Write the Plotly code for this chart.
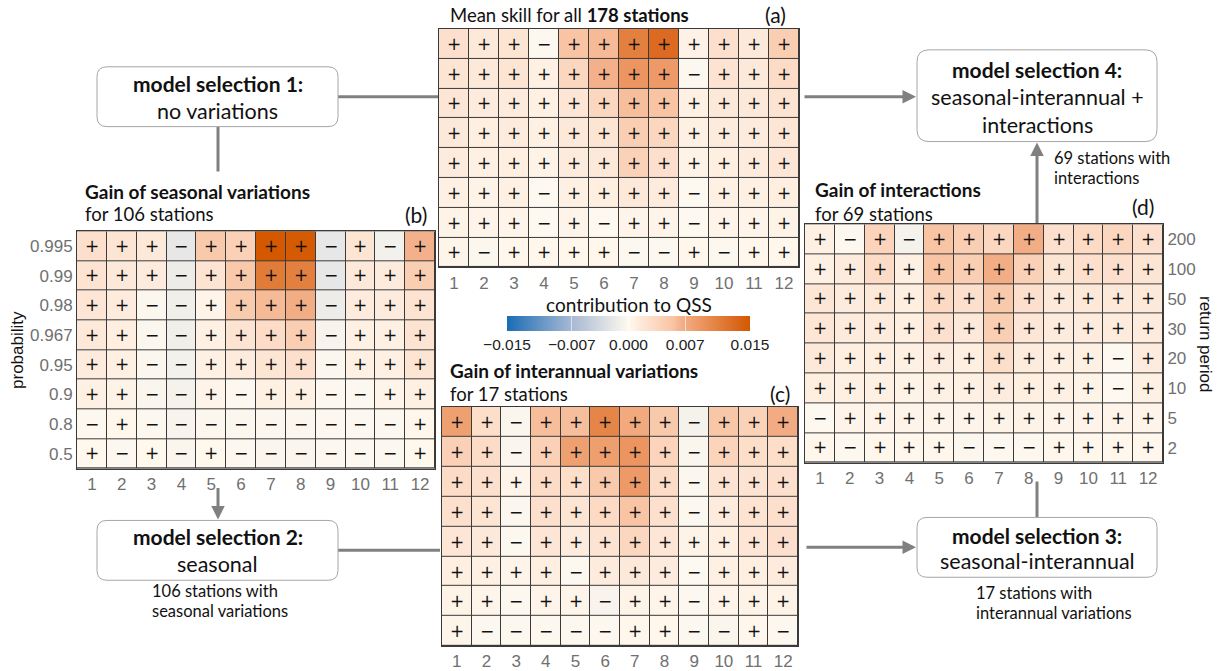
import plotly.graph_objects as go

W, H = 1220, 671

months = list(range(1, 13))
prob_labels = ["0.995", "0.99", "0.98", "0.967", "0.95", "0.9", "0.8", "0.5"]
rp_labels = ["200", "100", "50", "30", "20", "10", "5", "2"]

# mean skill contribution, all stations (rows: highest level first)
skill_all = [
    [0.0025, 0.0015, 0.0020, -0.0002, 0.0055, 0.0060, 0.0110, 0.0130, 0.0007, 0.0025, 0.0015, 0.0045],
    [0.0020, 0.0015, 0.0020, 0.0008, 0.0035, 0.0065, 0.0090, 0.0085, -0.0002, 0.0022, 0.0015, 0.0030],
    [0.0018, 0.0012, 0.0012, 0.0008, 0.0018, 0.0035, 0.0058, 0.0055, 0.0008, 0.0015, 0.0015, 0.0022],
    [0.0015, 0.0010, 0.0012, 0.0008, 0.0015, 0.0020, 0.0045, 0.0035, 0.0008, 0.0012, 0.0012, 0.0018],
    [0.0012, 0.0008, 0.0010, 0.0006, 0.0012, 0.0015, 0.0040, 0.0025, 0.0006, 0.0010, 0.0012, 0.0018],
    [0.0008, 0.0006, 0.0008, -0.0001, 0.0008, 0.0010, 0.0015, 0.0012, -0.0001, 0.0008, 0.0008, 0.0010],
    [0.0006, 0.0005, 0.0005, -0.0001, 0.0005, -0.0001, 0.0005, 0.0005, -0.0001, 0.0005, 0.0005, 0.0006],
    [0.0004, -0.0003, 0.0003, 0.0003, 0.0003, 0.0003, -0.0002, -0.0002, 0.0003, -0.0002, 0.0003, 0.0003],
]

# gain of seasonal variations, 106 stations
gain_seasonal = [
    [0.0025, 0.0020, 0.0015, -0.0020, 0.0050, 0.0042, 0.0150, 0.0148, -0.0020, 0.0020, -0.0010, 0.0065],
    [0.0022, 0.0015, 0.0012, -0.0015, 0.0022, 0.0050, 0.0115, 0.0110, -0.0020, 0.0015, 0.0012, 0.0045],
    [0.0018, 0.0012, -0.0003, -0.0012, 0.0005, 0.0048, 0.0060, 0.0068, -0.0015, 0.0012, 0.0012, 0.0022],
    [0.0015, 0.0010, -0.0003, -0.0012, 0.0008, 0.0022, 0.0030, 0.0045, -0.0006, 0.0008, 0.0008, 0.0022],
    [0.0012, 0.0008, -0.0003, -0.0010, 0.0008, 0.0012, 0.0020, 0.0025, -0.0003, 0.0008, 0.0008, 0.0020],
    [0.0008, 0.0006, -0.0004, -0.0008, 0.0005, -0.0002, 0.0008, 0.0008, -0.0002, -0.0002, 0.0005, 0.0008],
    [-0.0002, 0.0003, -0.0002, -0.0006, -0.0003, -0.0003, -0.0003, -0.0003, -0.0002, -0.0002, -0.0002, 0.0003],
    [0.0002, -0.0002, 0.0002, -0.0004, 0.0002, -0.0002, -0.0004, -0.0004, -0.0002, -0.0002, -0.0002, 0.0002],
]

# gain of interannual variations, 17 stations
gain_interannual = [
    [0.0080, 0.0028, -0.0004, 0.0058, 0.0058, 0.0105, 0.0072, 0.0050, -0.0008, 0.0052, 0.0040, 0.0070],
    [0.0042, 0.0030, -0.0004, 0.0042, 0.0080, 0.0082, 0.0090, 0.0038, -0.0004, 0.0038, 0.0028, 0.0028],
    [0.0030, 0.0025, 0.0005, 0.0030, 0.0028, 0.0050, 0.0085, 0.0030, -0.0003, 0.0022, 0.0022, 0.0025],
    [0.0025, 0.0020, -0.0003, 0.0025, 0.0020, 0.0032, 0.0055, 0.0025, -0.0002, 0.0012, 0.0022, 0.0025],
    [0.0018, 0.0015, -0.0002, 0.0018, 0.0012, 0.0022, 0.0035, 0.0018, 0.0006, 0.0010, 0.0018, 0.0025],
    [0.0010, 0.0008, 0.0005, 0.0010, -0.0002, 0.0012, 0.0015, 0.0012, -0.0001, 0.0008, 0.0010, 0.0012],
    [0.0006, 0.0005, -0.0002, 0.0005, 0.0005, -0.0006, 0.0006, 0.0005, -0.0002, 0.0005, 0.0006, 0.0006],
    [0.0004, -0.0002, -0.0002, -0.0002, -0.0002, -0.0002, 0.0003, 0.0003, -0.0002, -0.0004, 0.0003, -0.0002],
]

# gain of interactions, 69 stations (rows: return period 200 ... 2)
gain_interactions = [
    [0.0008, -0.0002, 0.0038, -0.0008, 0.0055, 0.0045, 0.0035, 0.0068, 0.0025, 0.0032, 0.0035, 0.0025],
    [0.0008, 0.0012, 0.0030, 0.0008, 0.0055, 0.0045, 0.0068, 0.0042, 0.0020, 0.0025, 0.0025, 0.0020],
    [0.0018, 0.0012, 0.0015, 0.0010, 0.0033, 0.0025, 0.0050, 0.0025, 0.0015, 0.0015, 0.0015, 0.0015],
    [0.0018, 0.0012, 0.0012, 0.0010, 0.0025, 0.0015, 0.0045, 0.0018, 0.0012, 0.0012, 0.0012, 0.0012],
    [0.0015, 0.0010, 0.0010, 0.0008, 0.0012, 0.0010, 0.0028, 0.0012, 0.0010, 0.0008, -0.0001, 0.0012],
    [0.0010, 0.0008, 0.0008, 0.0006, 0.0008, 0.0008, 0.0012, 0.0010, 0.0008, 0.0006, -0.0001, 0.0008],
    [-0.0001, 0.0005, 0.0005, 0.0005, 0.0005, 0.0005, 0.0006, 0.0006, 0.0005, 0.0005, 0.0005, 0.0005],
    [0.0003, -0.0002, 0.0003, 0.0003, 0.0003, -0.0003, -0.0002, -0.0002, 0.0003, 0.0003, 0.0003, 0.0003],
]

cbar_ticks = [-0.015, -0.007, 0.0, 0.007, 0.015]
cbar_ticktext = ["\u22120.015", "\u22120.007", "0.000", "0.007", "0.015"]

colorscale = [
    [0.0, "#1a6cb4"], [0.25, "#a0b4d2"], [0.44, "#e9e9e7"], [0.5, "#fffaf0"],
    [0.55, "#fde9da"], [0.6, "#fcdcc6"], [0.683, "#f8c4a4"], [0.717, "#f4b08a"],
    [0.8, "#ec9560"], [0.867, "#e3803f"], [0.933, "#dc6a22"], [1.0, "#d35800"],
]

TXT = "Lato"
TICK = "Liberation Sans"


def px(x):
    return x / W


def py(y):
    return 1 - y / H


def signs(z):
    return [["+" if v > 0 else "\u2212" for v in row] for row in z]


# panel rectangles in pixels: (left, top, right, bottom)
panels = {
    "a": (439, 29, 799, 268),
    "b": (77, 232, 435, 470),
    "c": (442, 408, 798, 648),
    "d": (805, 225, 1163, 464),
}
datasets = {"a": skill_all, "b": gain_seasonal, "c": gain_interannual, "d": gain_interactions}

fig = go.Figure()
layout_axes = {}
for i, key in enumerate(["a", "b", "c", "d"], start=1):
    z = datasets[key]
    sfx = "" if i == 1 else str(i)
    fig.add_trace(go.Heatmap(
        z=z, x=months, y=list(range(8)),
        text=signs(z), texttemplate="%{text}",
        textfont=dict(size=17, color="#111111", family="DejaVu Sans"),
        coloraxis="coloraxis", xgap=1, ygap=1,
        xaxis="x" + sfx, yaxis="y" + sfx, hoverinfo="skip",
    ))
    l, t, r, b = panels[key]
    layout_axes["xaxis" + sfx] = dict(
        domain=[px(l), px(r)], anchor="y" + sfx, range=[0.5, 12.5],
        tickvals=months, showgrid=False, zeroline=False,
        showline=True, mirror=True, linecolor="#3a3a3a", linewidth=1,
        ticks="", tickfont=dict(family=TICK, size=17, color="#707070"),
    )
    yax = dict(
        domain=[py(b), py(t)], anchor="x" + sfx, range=[7.5, -0.5],
        showgrid=False, zeroline=False, showline=True, mirror=True,
        linecolor="#3a3a3a", linewidth=1, ticks="",
        tickfont=dict(family=TICK, size=17, color="#707070"),
        showticklabels=False,
    )
    if key == "b":
        yax.update(showticklabels=True, tickvals=list(range(8)), ticktext=prob_labels)
    if key == "d":
        yax.update(showticklabels=True, tickvals=list(range(8)), ticktext=rp_labels, side="right")
    layout_axes["yaxis" + sfx] = yax

fig.update_layout(**layout_axes)


def rrect(x0, y0, x1, y1, r):
    pts = [
        f"M {px(x0 + r)} {py(y0)}",
        f"L {px(x1 - r)} {py(y0)}",
        f"Q {px(x1)} {py(y0)} {px(x1)} {py(y0 + r)}",
        f"L {px(x1)} {py(y1 - r)}",
        f"Q {px(x1)} {py(y1)} {px(x1 - r)} {py(y1)}",
        f"L {px(x0 + r)} {py(y1)}",
        f"Q {px(x0)} {py(y1)} {px(x0)} {py(y1 - r)}",
        f"L {px(x0)} {py(y0 + r)}",
        f"Q {px(x0)} {py(y0)} {px(x0 + r)} {py(y0)}",
        "Z",
    ]
    return dict(type="path", path=" ".join(pts), xref="paper", yref="paper",
                line=dict(color="#a6a6a6", width=1), fillcolor="white", layer="above")


GREY = "#808080"


def seg(x0, y0, x1, y1):
    return dict(type="line", xref="paper", yref="paper",
                x0=px(x0), y0=py(y0), x1=px(x1), y1=py(y1),
                line=dict(color=GREY, width=3))


shapes = [
    seg(338, 97, 438, 97),
    seg(218, 127, 218, 172),
    seg(338, 552, 440, 552),
    seg(1037, 519, 1037, 483),
    rrect(97, 67, 338, 127, 10),
    rrect(917, 50, 1157, 142, 12),
    rrect(97, 522, 338, 582, 10),
    rrect(917, 519, 1157, 579, 10),
]

annotations = []


def arrow(tx, ty, hx, hy):
    annotations.append(dict(
        x=px(hx), y=py(hy), xref="paper", yref="paper", text="",
        showarrow=True, ax=tx - hx, ay=ty - hy, axref="pixel", ayref="pixel",
        arrowhead=2, arrowsize=0.9, arrowwidth=3, arrowcolor=GREY,
    ))


arrow(803, 97, 916, 97)
arrow(218, 488, 218, 521)
arrow(805, 549, 916, 549)
arrow(1037, 225, 1037, 143)


def label(text, x, y, size=18, anchor="left", color="#111111", family=TXT, angle=0):
    annotations.append(dict(
        x=px(x), y=py(y), xref="paper", yref="paper", text=text,
        showarrow=False, xanchor=anchor, yanchor="middle", textangle=angle,
        font=dict(family=family, size=size, color=color),
    ))


# panel titles
label("Mean skill for all <b>178 stations</b>", 448, 15, size=18.5)
label("(a)", 788, 15, size=21, anchor="right")
label("<b>Gain of seasonal variations</b>", 83, 192, size=19)
label("for 106 stations", 83, 215, size=18.5)
label("(b)", 429, 215, size=21, anchor="right")
label("<b>Gain of interannual variations</b>", 448, 372, size=19)
label("for 17 stations", 448, 395, size=18.5)
label("(c)", 792, 395, size=21, anchor="right")
label("<b>Gain of interactions</b>", 813, 190, size=19)
label("for 69 stations", 813, 215, size=18.5)
label("(d)", 1156, 207, size=21, anchor="right")

# axis titles
label("probability", 18, 351, size=17, anchor="center", family=TICK, angle=-90)
label("return period", 1205, 345, size=17, anchor="center", family=TICK, angle=90)

# colour bar title
label("contribution to QSS", 629, 305, size=19, anchor="center")

# model selection boxes
label("<b>model selection 1:</b>", 217.5, 84, size=21, anchor="center")
label("no variations", 217.5, 111, size=21.5, anchor="center")
label("<b>model selection 4:</b>", 1037, 70, size=21, anchor="center")
label("seasonal-interannual +", 1037, 97, size=21.5, anchor="center")
label("interactions", 1037, 125, size=21.5, anchor="center")
label("<b>model selection 2:</b>", 217.5, 538, size=21, anchor="center")
label("seasonal", 217.5, 566, size=21.5, anchor="center")
label("<b>model selection 3:</b>", 1037, 537, size=21, anchor="center")
label("seasonal-interannual", 1037, 563, size=21.5, anchor="center")

# station counts along the arrows
label("69 stations with", 1052, 158, size=16.5)
label("interactions", 1052, 179, size=16.5)
label("106 stations with", 150, 593, size=16.5)
label("seasonal variations", 150, 613, size=16.5)
label("17 stations with", 974, 595, size=16.5)
label("interannual variations", 974, 615, size=16.5)

fig.update_layout(
    width=W, height=H, margin=dict(l=0, r=0, t=0, b=0),
    paper_bgcolor="white", plot_bgcolor="#3a3a3a",
    showlegend=False, shapes=shapes, annotations=annotations,
    coloraxis=dict(
        cmin=-0.015, cmax=0.015, colorscale=colorscale,
        colorbar=dict(
            orientation="h", x=px(628.5), xanchor="center",
            y=py(317), yanchor="top", ypad=0, xpad=0,
            len=243, lenmode="pixels", thickness=15, thicknessmode="pixels",
            outlinewidth=0,
            tickvals=cbar_ticks, ticktext=cbar_ticktext,
            ticks="inside", ticklen=15, tickcolor="rgba(255,255,255,0.6)",
            tickfont=dict(family=TICK, size=15.5, color="#222222"),
        ),
    ),
)

fig.write_html("out.html")
